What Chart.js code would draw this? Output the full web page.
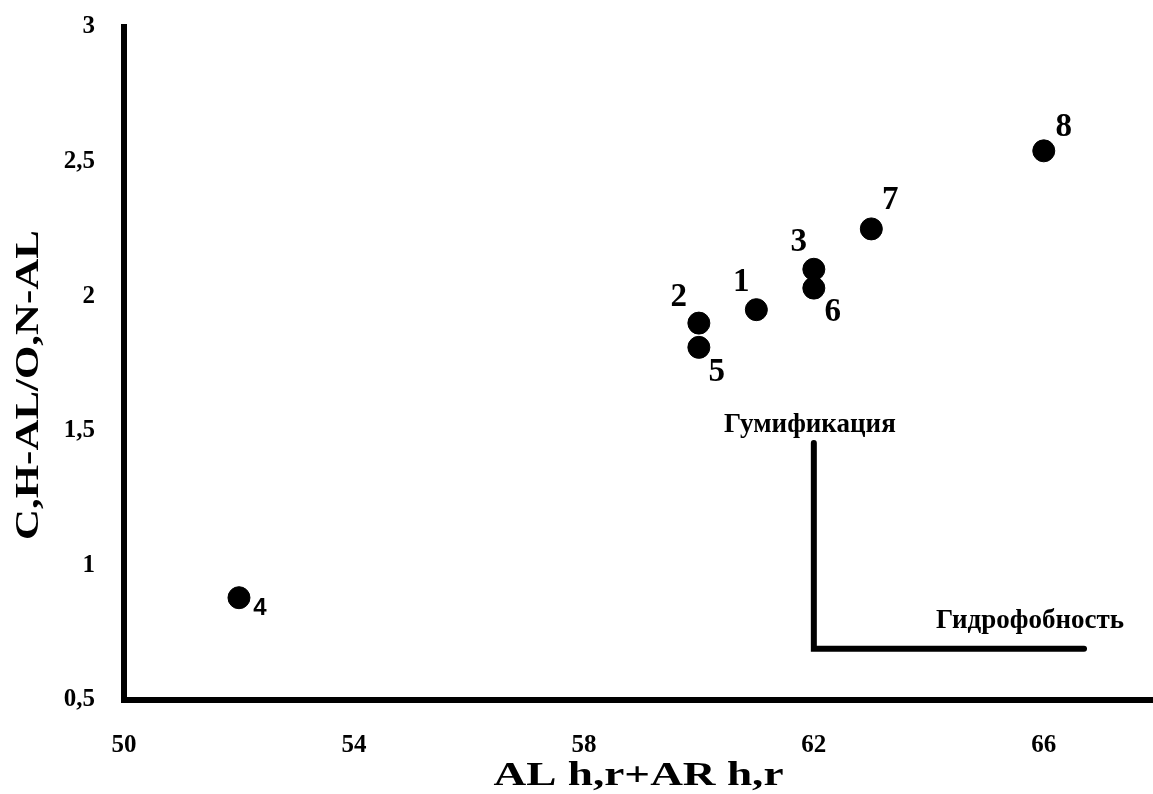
<!DOCTYPE html>
<html>
<head>
<meta charset="utf-8">
<script src="https://cdn.jsdelivr.net/npm/chart.js@4/dist/chart.umd.min.js"></script>
<style>
    html, body { margin: 0; padding: 0; background: #fff; }
    #wrap { width: 1153px; height: 794px; }
</style>
</head>
<body>
<div id="wrap"><canvas id="chart"></canvas></div>
<script>
// Samples (numbered 1..8) and their coordinates
const sampleLabels = ['1', '2', '3', '4', '5', '6', '7', '8'];
const xValues = [61, 60, 62, 52, 60, 62, 63, 66];
const yValues = [1.95, 1.90, 2.10, 0.88, 1.81, 2.03, 2.25, 2.54];

// Axis ticks and titles
const xTicks = [50, 54, 58, 62, 66];
const yTicks = [0.5, 1, 1.5, 2, 2.5, 3];
const yTickLabels = ['0,5', '1', '1,5', '2', '2,5', '3'];
const xTitle = 'AL h,r+AR h,r';
const yTitle = 'C,H-AL/O,N-AL';

// Humification / hydrophobicity marker (corner line + captions)
const markerX = [62, 62, 66.7];
const markerY = [1.455, 0.69, 0.69];
const markerTexts = ['Гумификация', 'Гидрофобность'];
const markerTextX = [61.93, 65.76];
const markerTextY = [1.52, 0.793];

// Where each sample number sits relative to its dot (px)
const labelOffsets = [[-15, -27], [-20, -26], [-15, -27], [21, 11], [18, 25], [19, 24], [19, -28], [20, -23]];

const SERIF = "'Liberation Serif', 'Times New Roman', serif";

// text squeezed/stretched to a given length (the original lettering is wide)
function drawStretched(ctx, text, x, y, length, vertical) {
    ctx.save();
    ctx.translate(x, y);
    if (vertical) ctx.rotate(-Math.PI / 2);
    const w = ctx.measureText(text).width;
    ctx.scale(length / w, 1);
    ctx.fillText(text, 0, 0);
    ctx.restore();
}

// Draw sample numbers, marker captions and axis titles
const textPlugin = {
    id: 'texts',
    afterDatasetsDraw(chart) {
        const ctx = chart.ctx;
        const xs = chart.scales.x;
        const ys = chart.scales.y;
        const meta = chart.getDatasetMeta(0);
        ctx.save();
        ctx.fillStyle = '#000';
        ctx.textAlign = 'center';
        ctx.textBaseline = 'middle';
        meta.data.forEach((pt, i) => {
            const off = labelOffsets[i];
            ctx.font = sampleLabels[i] === '4'
                ? "bold 24px 'Liberation Sans', Arial, sans-serif"
                : 'bold 33px ' + SERIF;
            ctx.fillText(sampleLabels[i], pt.x + off[0], pt.y + off[1]);
        });
        ctx.font = 'bold 27px ' + SERIF;
        markerTexts.forEach((t, i) => {
            ctx.fillText(t, xs.getPixelForValue(markerTextX[i]), ys.getPixelForValue(markerTextY[i]));
        });
        ctx.font = 'bold 34px ' + SERIF;
        const area = chart.chartArea;
        drawStretched(ctx, xTitle, (area.left + area.right) / 2, 776, 290, false);
        drawStretched(ctx, yTitle, 29, 385, 310, true);
        ctx.restore();
    }
};

new Chart(document.getElementById('chart'), {
    type: 'scatter',
    data: {
        datasets: [
            {
                data: xValues.map((x, i) => ({ x, y: yValues[i] })),
                backgroundColor: '#000',
                borderColor: '#000',
                pointRadius: 11,
                pointHoverRadius: 11
            },
            {
                data: markerX.map((x, i) => ({ x, y: markerY[i] })),
                showLine: true,
                borderColor: '#000',
                borderWidth: 6,
                borderCapStyle: 'round',
                borderJoinStyle: 'miter',
                pointRadius: 0,
                pointHoverRadius: 0
            }
        ]
    },
    options: {
        responsive: true,
        maintainAspectRatio: false,
        animation: false,
        layout: {
            autoPadding: false,
            padding: { top: 27, right: 0, left: 0, bottom: 0 }
        },
        plugins: {
            legend: { display: false },
            tooltip: { enabled: false }
        },
        scales: {
            x: {
                type: 'linear',
                min: 50,
                max: 67.9,
                afterBuildTicks: s => { s.ticks = xTicks.map(v => ({ value: v })); },
                afterFit: s => {
                    s.height = 94;
                    s.paddingLeft = 0;
                    s.paddingRight = 0;
                },
                grid: { display: false, drawTicks: false },
                border: { display: true, width: 6, color: '#000' },
                ticks: {
                    color: '#000',
                    padding: 31,
                    font: { family: SERIF, size: 25, weight: 'bold' }
                }
            },
            y: {
                type: 'linear',
                min: 0.5,
                max: 3,
                afterBuildTicks: s => { s.ticks = yTicks.map(v => ({ value: v })); },
                afterFit: s => {
                    s.width = 124;
                    s.paddingTop = 0;
                    s.paddingBottom = 0;
                },
                grid: { display: false, drawTicks: false },
                border: { display: true, width: 6, color: '#000' },
                ticks: {
                    color: '#000',
                    padding: 29,
                    font: { family: SERIF, size: 25, weight: 'bold' },
                    callback: v => yTickLabels[yTicks.indexOf(v)]
                }
            }
        }
    },
    plugins: [textPlugin]
});
</script>
</body>
</html>
